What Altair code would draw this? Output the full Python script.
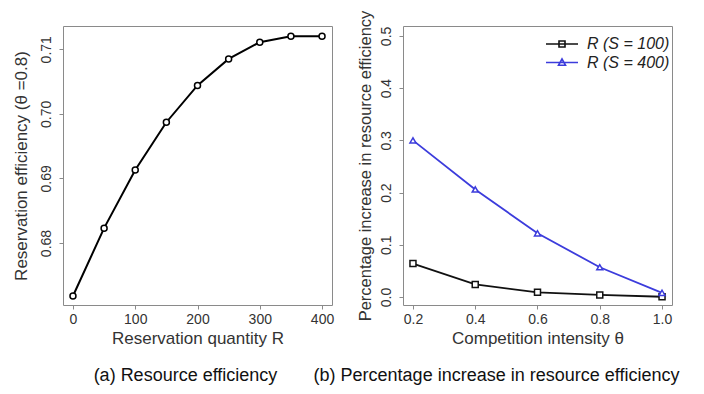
import altair as alt
import pandas as pd

# ---------------- data ----------------
R_quantity = [0, 50, 100, 150, 200, 250, 300, 350, 400]
reservation_eff = [0.6718, 0.6823, 0.6913, 0.6987, 0.7044, 0.7085, 0.7111, 0.7120, 0.7120]

theta = [0.2, 0.4, 0.6, 0.8, 1.0]
inc_s100 = [0.064, 0.024, 0.009, 0.004, 0.0005]
inc_s400 = [0.300, 0.206, 0.122, 0.057, 0.008]

series_names = ["R (S = 100)", "R (S = 400)"]
series_colors = ["#111111", "#3c3cdc"]
series_shapes = ["square", "triangle-up"]
legend_paths = [
    "M-3.2,0H3.2M-0.6,-0.6H0.6V0.6H-0.6Z",
    "M-3.2,0H3.2M0,-0.7L0.7,0.55H-0.7Z",
]

x_ticks_a = [0, 100, 200, 300, 400]
y_ticks_a = [0.68, 0.69, 0.70, 0.71]
x_ticks_b = [0.2, 0.4, 0.6, 0.8, 1.0]
y_ticks_b = [0.0, 0.1, 0.2, 0.3, 0.4, 0.5]

FONT = "Liberation Sans"
TXT = "#333333"

df_a = pd.DataFrame({"R": R_quantity, "eff": reservation_eff})
df_b = pd.DataFrame({
    "theta": theta + theta,
    "inc": inc_s100 + inc_s400,
    "series": [series_names[0]] * len(theta) + [series_names[1]] * len(theta),
})


def x_axis(values, fmt, title):
    return alt.Axis(values=values, format=fmt, title=title, labelFontSize=14,
                    tickSize=4, labelPadding=3, titleFontSize=17, titlePadding=4,
                    labelFlush=False)


def y_axis(values, fmt, title, tfs, tpad):
    return alt.Axis(values=values, format=fmt, title=title, labelAngle=270,
                    labelAlign="center", labelBaseline="bottom", labelFontSize=14,
                    tickSize=4, labelPadding=6, titleFontSize=tfs, titlePadding=tpad,
                    labelFlush=False)


# ---------------- panel (a) ----------------
xa = alt.X("R:Q", scale=alt.Scale(domain=[-16, 416], nice=False, zero=False),
           axis=x_axis(x_ticks_a, "d", "Reservation quantity R"))
ya = alt.Y("eff:Q", scale=alt.Scale(domain=[0.6704, 0.7136], nice=False, zero=False),
           axis=y_axis(y_ticks_a, ".2f", "Reservation efficiency (θ =0.8)", 17, 9))
base_a = alt.Chart(df_a).encode(x=xa, y=ya)
line_a = base_a.mark_line(color="black", strokeWidth=2)
pts_a = base_a.mark_point(shape="circle", size=36, filled=True, fill="white",
                          stroke="black", strokeWidth=1.5, opacity=1)
panel_a = alt.layer(line_a, pts_a).properties(
    width=269, height=279,
    title=alt.TitleParams("(a) Resource efficiency", orient="bottom", anchor="middle",
                          fontSize=18, font=FONT, fontWeight="normal", color="#111111",
                          offset=21, dx=-12),
)

# ---------------- panel (b) ----------------
xb = alt.X("theta:Q", scale=alt.Scale(domain=[0.168, 1.032], nice=False, zero=False),
           axis=x_axis(x_ticks_b, ".1f", "Competition intensity θ"))
yb = alt.Y("inc:Q", scale=alt.Scale(domain=[-0.0153, 0.519], nice=False, zero=False),
           axis=y_axis(y_ticks_b, ".1f", "Percentage increase in resource efficiency", 16.5, 6))
base_b = alt.Chart(df_b).encode(x=xb, y=yb)

line_b = base_b.mark_line(strokeWidth=1.8).encode(
    color=alt.Color("series:N", scale=alt.Scale(domain=series_names, range=series_colors),
                    legend=None))
pts_b = base_b.mark_point(size=36, filled=True, fill="white", strokeWidth=1.5, opacity=1).encode(
    stroke=alt.Stroke("series:N", scale=alt.Scale(domain=series_names, range=series_colors),
                      legend=None),
    shape=alt.Shape("series:N", scale=alt.Scale(domain=series_names, range=series_shapes),
                    legend=None),
)
leg = alt.Legend(title=None, orient="none", legendX=151, legendY=10, padding=0,
                 symbolSize=100, symbolStrokeWidth=1.6, labelOffset=17,
                 labelFontSize=16, labelFontStyle="italic", labelFont=FONT,
                 labelColor="#222222", rowPadding=2.5)
legend_layer = base_b.transform_filter("false").mark_point(filled=False, strokeWidth=1.6,
                                                         opacity=1).encode(
    color=alt.Color("series:N", scale=alt.Scale(domain=series_names, range=series_colors),
                    legend=leg),
    shape=alt.Shape("series:N", scale=alt.Scale(domain=series_names, range=legend_paths),
                    legend=leg),
)
panel_b = alt.layer(line_b, pts_b, legend_layer).resolve_scale(
    color="independent", shape="independent", stroke="independent"
).properties(
    width=269, height=279,
    title=alt.TitleParams("(b) Percentage increase in resource efficiency", orient="bottom",
                          anchor="middle", fontSize=18, font=FONT, fontWeight="normal",
                          color="#111111", offset=21, dx=-41),
)

chart = alt.hconcat(panel_a, panel_b, spacing=71, bounds="flush").properties(
    padding={"left": 3, "top": 1, "right": 5, "bottom": 5},
    background="white",
).configure_view(
    stroke="#8a8a8a", strokeWidth=1,
).configure_axis(
    domain=False, grid=False, tickColor="#8a8a8a", labelColor=TXT, titleColor=TXT,
    labelFont=FONT, titleFont=FONT, titleFontWeight="normal",
)

chart.save("out.html", embed_options={"renderer": "svg", "actions": False})
